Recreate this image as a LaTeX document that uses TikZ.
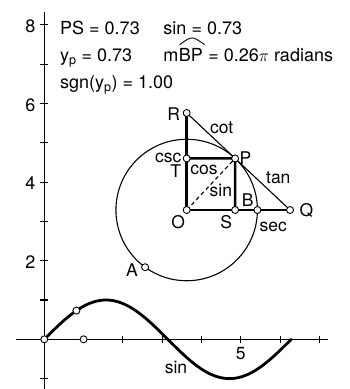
\documentclass[tikz,border=0pt]{standalone}
\usepackage{fontspec}
\setmainfont{TeX Gyre Heros}
\usetikzlibrary{calc}
\begin{document}
\begin{tikzpicture}[x=39.3pt,y=39.3pt,
  every node/.style={font=\fontsize{18}{21}\selectfont, inner sep=0pt},
  thinline/.style={line width=1.1pt},
  thickline/.style={line width=2.5pt},
  curveline/.style={line width=2.8pt, line cap=round},
  ptmark/.style={circle, draw, fill=white, line width=0.9pt, minimum size=7pt, inner sep=0pt},
  lbl/.style={anchor=base, font=\fontsize{17.5}{21}\selectfont},
  tickmark/.style={line width=1.1pt},
  txt/.style={anchor=base west}]
\useasboundingbox (-44.3pt,-49.7pt) rectangle (305.7pt,339.3pt);

% axes
\coordinate (xl) at (-0.72,0);
\coordinate (xr) at (7.22,0);
\coordinate (yb) at (0,-1.3);
\coordinate (yt) at (0,8.34);
\draw[thinline] (xl) -- (xr);
\draw[thinline] (yb) -- (yt);
\foreach \i in {1,...,7}
  \draw[tickmark] ([yshift=-3.5pt]\i,0) -- ([yshift=3.5pt]\i,0);
\foreach \j in {-1,1,2,...,8}
  \draw[tickmark] ([xshift=-4pt]0,\j) -- ([xshift=4pt]0,\j);
\foreach \j in {2,4,6,8}
  \node[anchor=east] (ylab\j) at ([xshift=-8.6pt,yshift=-1.3pt]0,\j) {\j};
\node[lbl] (xlab5) at (196.5pt,-20pt) {5};

% sine curve
\draw[curveline] plot[domain=0:6.2832, samples=120, smooth] (\x,{sin(\x r)});

% unit circle construction
\coordinate (O) at (3.623,3.290);
\coordinate (P) at ($(O)+(46.8:1.8)$);
\coordinate (T) at (3.623,4.602);
\coordinate (S) at (4.855,3.290);
\coordinate (B) at ($(O)+(1.8,0)$);
\coordinate (Q) at (6.253,3.290);
\coordinate (R) at (3.623,5.759);
\coordinate (A) at ($(O)+(234:1.8)$);
\coordinate (Z0) at (0,0);
\coordinate (Z1) at (0.8168,0.7290);
\coordinate (Z2) at (1,0);

\draw[thinline] (O) circle[radius=1.8];
\draw[thinline] (R) -- (Q);
\draw[thinline, dash pattern=on 4pt off 3pt] (O) -- (P);
\draw[thickline] (R) -- (O) -- (Q);
\draw[thickline] (T) -- (P) -- (S);

\foreach \p in {O,P,T,S,B,Q,R,A,Z0,Z1,Z2}
  \node[ptmark] (m\p) at (\p) {};

% labels
\node[lbl] (lR) at (129.4pt,218.6pt) {R};
\node[lbl] (lcot) at (177.4pt,206pt) {cot};
\node[lbl] (lcsc) at (124pt,176.6pt) {csc};
\node[lbl] (lT) at (131.5pt,161.4pt) {T};
\node[lbl] (lcos) at (159.7pt,164.3pt) {cos};
\node[lbl] (lP) at (201.2pt,174.3pt) {P};
\node[lbl] (lsin) at (176.5pt,142.6pt) {sin};
\node[lbl] (ltan) at (234pt,155.3pt) {tan};
\node[lbl] (lB) at (203.5pt,132.6pt) {B};
\node[lbl] (lO) at (134pt,111pt) {O};
\node[lbl] (lS) at (182pt,111pt) {S};
\node[lbl] (lsec) at (229pt,107.6pt) {sec};
\node[lbl] (lQ) at (262.2pt,122.6pt) {Q};
\node[lbl] (lA) at (87.7pt,62.6pt) {A};
\node[lbl] (lsinc) at (131.7pt,-34pt) {sin};

% readouts
\node[txt] (t1a) at (15.7pt,304.8pt) {PS = 0.73};
\node[txt] (t1b) at (119pt,304.8pt) {sin = 0.73};
\node[txt] (t2a) at (15.7pt,277.3pt) {y\textsubscript{p} = 0.73};
\node[txt] (t2m) at (119pt,277.3pt) {m};
\node[txt] (t2bp) at (t2m.base east) {BP};
\node[txt] (t2c) at (t2bp.base east) {\ = 0.26$\pi$ radians};
\draw[line width=0.9pt] ([xshift=1pt,yshift=4pt]t2bp.north west) .. controls ([xshift=1pt,yshift=13pt]t2bp.north) .. ([xshift=1.5pt,yshift=4pt]t2bp.north east);
\node[txt] (t3) at (15.7pt,250.3pt) {sgn(y\textsubscript{p}) = 1.00};
\end{tikzpicture}
\end{document}
